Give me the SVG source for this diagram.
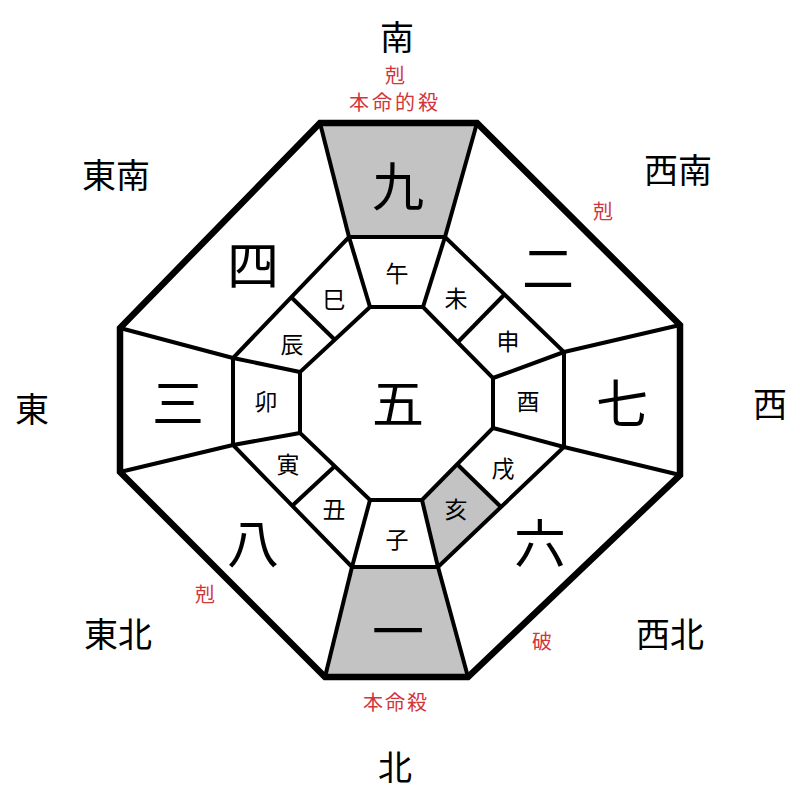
<svg xmlns="http://www.w3.org/2000/svg" width="800" height="800" viewBox="0 0 800 800">
<style>
.t{font-family:"Noto Sans CJK JP","Noto Sans CJK SC",sans-serif;text-anchor:middle;dominant-baseline:central;fill:#000}
.dir{font-size:34px}
.big{font-size:52px}
.sm{font-size:23px}
.red{font-size:20px;fill:#d2343c}
.ln{stroke:#000;stroke-width:4;fill:none;stroke-linejoin:miter}
.outer{stroke:#000;stroke-width:6.5;fill:none;stroke-linejoin:miter}
.sh{fill:#c3c3c3}
</style>
<rect width="800" height="800" fill="#fff"/>
<g id="shaded">
<polygon class="sh" points="320,123 477,123 445,237 349,237"/>
<polygon class="sh" points="352,567 438,567 468,677 325,677"/>
<polygon class="sh" points="458,465 501,507 438,567 422,500"/>
</g>
<g id="lines">
<polygon class="ln" points="349,237 445,237 564,352 564,447 438,567 352,567 233,445 233,358"/>
<polygon class="ln" points="370,307 423,307 493,378 493,428 422,500 370,500 300,433 300,372"/>
<line class="ln" x1="320" y1="123" x2="349" y2="237"/>
<line class="ln" x1="477" y1="123" x2="445" y2="237"/>
<line class="ln" x1="680" y1="325" x2="564" y2="352"/>
<line class="ln" x1="680" y1="475" x2="564" y2="447"/>
<line class="ln" x1="468" y1="677" x2="438" y2="567"/>
<line class="ln" x1="325" y1="677" x2="352" y2="567"/>
<line class="ln" x1="120" y1="472" x2="233" y2="445"/>
<line class="ln" x1="120" y1="328" x2="233" y2="358"/>
<line class="ln" x1="349" y1="237" x2="370" y2="307"/>
<line class="ln" x1="445" y1="237" x2="423" y2="307"/>
<line class="ln" x1="564" y1="352" x2="493" y2="378"/>
<line class="ln" x1="564" y1="447" x2="493" y2="428"/>
<line class="ln" x1="438" y1="567" x2="422" y2="500"/>
<line class="ln" x1="352" y1="567" x2="370" y2="500"/>
<line class="ln" x1="233" y1="445" x2="300" y2="433"/>
<line class="ln" x1="233" y1="358" x2="300" y2="372"/>
<line class="ln" x1="504" y1="295" x2="458" y2="342"/>
<line class="ln" x1="501" y1="507" x2="458" y2="465"/>
<line class="ln" x1="292" y1="506" x2="335" y2="466"/>
<line class="ln" x1="291" y1="297" x2="335" y2="340"/>
<polygon class="outer" points="320,123 477,123 680,325 680,475 468,677 325,677 120,472 120,328"/>
</g>
<g id="directions">
<text class="t dir" x="397" y="35">南</text>
<text class="t dir" x="116" y="173">東南</text>
<text class="t dir" x="678" y="168">西南</text>
<text class="t dir" x="32" y="407">東</text>
<text class="t dir" x="770" y="402">西</text>
<text class="t dir" x="118" y="632">東北</text>
<text class="t dir" x="670" y="632">西北</text>
<text class="t dir" x="395" y="765">北</text>
</g>
<g id="notes">
<text class="t red" x="395" y="74">剋</text>
<text class="t red" x="395" y="101" letter-spacing="3">本命的殺</text>
<text class="t red" x="603" y="210">剋</text>
<text class="t red" x="205" y="593">剋</text>
<text class="t red" x="542" y="640">破</text>
<text class="t red" x="396" y="701" letter-spacing="2">本命殺</text>
</g>
<g id="stars">
<text class="t big" x="398" y="183">九</text>
<text class="t big" x="548" y="265">二</text>
<text class="t big" x="622" y="400">七</text>
<text class="t big" x="540" y="540">六</text>
<text class="t big" x="398" y="628">一</text>
<text class="t big" x="253" y="540">八</text>
<text class="t big" x="178" y="400">三</text>
<text class="t big" x="253" y="262">四</text>
<text class="t big" x="398" y="400">五</text>
</g>
<g id="branches">
<text class="t sm" x="397" y="272">午</text>
<text class="t sm" x="456" y="297">未</text>
<text class="t sm" x="508" y="340">申</text>
<text class="t sm" x="528" y="400">酉</text>
<text class="t sm" x="503" y="467">戌</text>
<text class="t sm" x="456" y="508">亥</text>
<text class="t sm" x="397" y="538">子</text>
<text class="t sm" x="334" y="508">丑</text>
<text class="t sm" x="288" y="463">寅</text>
<text class="t sm" x="266" y="400">卯</text>
<text class="t sm" x="292" y="343">辰</text>
<text class="t sm" x="334" y="298">巳</text>
</g>
</svg>
